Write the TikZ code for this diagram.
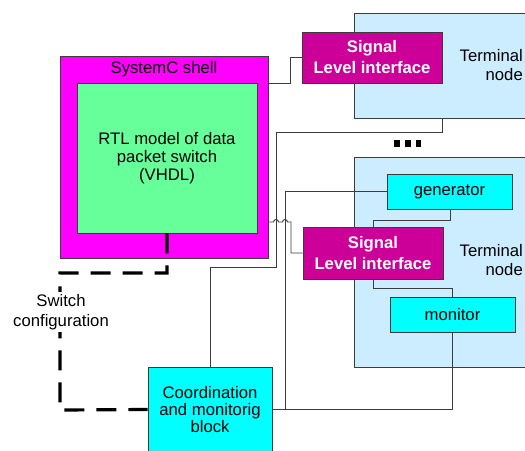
\documentclass[tikz,border=0pt]{standalone}
\usepackage{fontspec}
\setmainfont{Liberation Sans}
\definecolor{shellc}{RGB}{255,0,255}
\definecolor{rtlc}{RGB}{102,255,153}
\definecolor{slic}{RGB}{204,0,153}
\definecolor{termc}{RGB}{204,236,255}
\definecolor{cyanc}{RGB}{0,255,255}
\definecolor{wirec}{RGB}{60,60,60}
\tikzset{
  box/.style={draw=wirec, line width=0.9pt, inner sep=0pt, align=center,
    font=\fontsize{16.7}{18.5}\selectfont},
  txt/.style={inner sep=0pt, align=center, font=\fontsize{16.7}{19.5}\selectfont},
  slibox/.style={box, fill=slic, text=white, font=\fontsize{16.7}{21}\selectfont\bfseries,
    minimum width=140pt, minimum height=51pt},
  wire/.style={draw=wirec, line width=0.9pt},
  cfgline/.style={line width=3.2pt, dash pattern=on 20pt off 12pt},
}
\begin{document}
\begin{tikzpicture}[x=1pt,y=-1pt]
\useasboundingbox (0,0) rectangle (525,450);
% terminal nodes
\node[box, fill=termc, minimum width=186pt, minimum height=105pt] (term1) at (447,65.5) {};
\node[txt, anchor=east, align=right] (term1lbl) at (523,65) {Terminal\\node};
\node[box, fill=termc, minimum width=186pt, minimum height=210pt] (term2) at (447,262) {};
\node[txt, anchor=east, align=right] (term2lbl) at (523,260) {Terminal\\node};
% shell
\node[box, fill=shellc, minimum width=208pt, minimum height=202pt] (shell) at (164,157) {};
\node[txt] (shelllbl) at (164,69) {SystemC shell};
\node[box, fill=rtlc, minimum width=180pt, minimum height=150pt, font=\fontsize{16.7}{18}\selectfont] (rtl) at (167,158) {RTL model of data\\packet switch\\(VHDL)};
% signal level interfaces
\node[slibox] (sli1) at (372,57.5) {Signal\\Level interface};
\node[slibox, minimum height=52pt] (sli2) at (373,253) {Signal\\Level interface};
% generator / monitor
\node[box, fill=cyanc, minimum width=125pt, minimum height=35pt] (gen) at (449.5,191.5) {generator};
\node[box, fill=cyanc, minimum width=125pt, minimum height=35pt] (mon) at (452.5,314.5) {monitor};
% coordination
\node[box, fill=cyanc, minimum width=124pt, minimum height=85pt, font=\fontsize{16.7}{17}\selectfont] (coord) at (210,409.5) {Coordination\\and monitorig\\block};
% dots
\fill (394,140) rectangle (399.5,146.5);
\fill (405,140) rectangle (410.5,146.5);
\fill (415.5,140) rectangle (421,146.5);
% wires
\draw[wire] (shell.east |- 0,83) -- (290,83) |- (sli1.west);
\draw[wire] (shell.east |- 0,222) -- (273.5,222) arc (180:0:2.5pt) -- (282.5,222) arc (180:0:2.5pt) -- (291,222) |- (sli2.west);
\draw[wire] (term1.south -| 442,0) -- (442,132) -- (276,132) -- (276,267) -- (210,267) -- (coord.north);
\draw[wire] (gen.west) -- (285,191.5) -- (285,409.5);
\draw[wire] (coord.east) -| (mon.south);
\draw[wire] (gen.south -| 450,0) -- (450,220) -- (373,220) -- (sli2.north);
\draw[wire] (sli2.south) -- (373,288) -| (mon.north);
% switch configuration
\draw[cfgline] (rtl.south -| 167,0) -- (167,273) -- (60,273) -- (60,410) -- (coord.west);
\node[txt, fill=white, inner sep=2pt, font=\fontsize{16.7}{20}\selectfont] (cfglbl) at (61,312) {Switch\\configuration};
\end{tikzpicture}
\end{document}
